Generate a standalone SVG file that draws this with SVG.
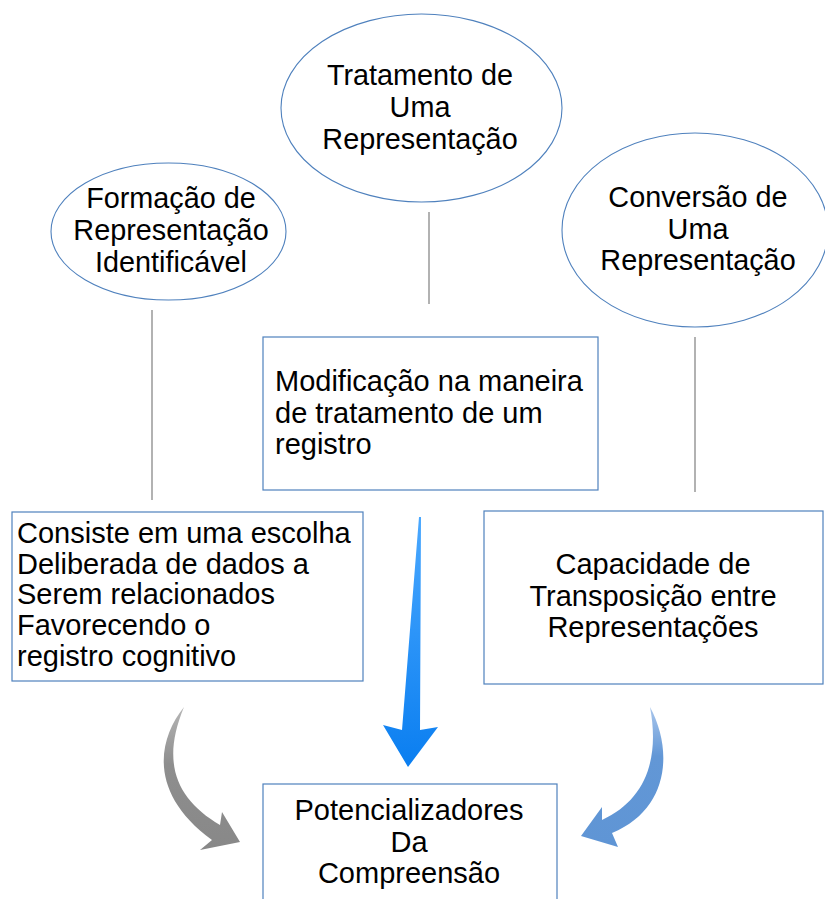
<svg xmlns="http://www.w3.org/2000/svg" width="825" height="899" viewBox="0 0 825 899">
<defs>
<style>
.el{fill:#fff;stroke:#4f81bd;stroke-width:1.1}
.bx{fill:#fff;stroke:#4f81bd;stroke-width:1.2}
.ln{stroke:#7f7f7f;stroke-width:1.2;fill:none}
.t{font-family:"Liberation Sans",Arial,sans-serif;fill:#000}
.e{font-size:28.8px;text-anchor:middle}
.b{font-size:29px}
.c{text-anchor:middle}
</style>
<linearGradient id="gBlue" x1="0" y1="0" x2="0" y2="1">
<stop offset="0" stop-color="#4aa8ff"/>
<stop offset="1" stop-color="#0a7ef0"/>
</linearGradient>
<linearGradient id="gGray" x1="0" y1="0" x2="0" y2="1">
<stop offset="0" stop-color="#b5b5b5"/>
<stop offset="0.4" stop-color="#8e8e8e"/>
<stop offset="1" stop-color="#888"/>
</linearGradient>
<linearGradient id="gLBlue" x1="0" y1="0" x2="0" y2="1">
<stop offset="0" stop-color="#a9c6ec"/>
<stop offset="0.35" stop-color="#6297d6"/>
<stop offset="1" stop-color="#5f95d5"/>
</linearGradient>
</defs>
<rect width="825" height="899" fill="#fff"/>

<g id="connectors">
<line class="ln" x1="152" y1="310" x2="152" y2="500"/>
<line class="ln" x1="429" y1="212" x2="429" y2="304"/>
<line class="ln" x1="695" y1="337" x2="695" y2="492"/>
<path id="arrow-left" fill="url(#gGray)" d="M184,707 C156,742 150,795 212,840 L200,850 L240,842 L222,812 L220,825 C178,800 160,765 184,707 Z"/>
<path id="arrow-center" fill="url(#gBlue)" d="M419,517 L421,517 L420,730 L438,727 L408,767 L383,725 L402,730 Z"/>
<path id="arrow-right" fill="url(#gLBlue)" d="M650,707 C674,752 668,810 612,833 L618,847 L581,836 L602,807 L602,820 C645,800 660,760 650,707 Z"/>
</g>

<g id="node-formacao">
<ellipse class="el" cx="168.5" cy="231.5" rx="117.5" ry="68.5"/>
<text class="t e"><tspan x="171" y="208">Formação de</tspan><tspan x="171" y="240">Representação</tspan><tspan x="171" y="272">Identificável</tspan></text>
</g>

<g id="node-tratamento">
<ellipse class="el" cx="421.5" cy="108" rx="140.5" ry="94"/>
<text class="t e"><tspan x="420" y="85">Tratamento de</tspan><tspan x="420" y="117">Uma</tspan><tspan x="420" y="149">Representação</tspan></text>
</g>

<g id="node-conversao">
<ellipse class="el" cx="695" cy="230" rx="133" ry="97"/>
<text class="t e"><tspan x="698" y="207">Conversão de</tspan><tspan x="698" y="238.5">Uma</tspan><tspan x="698" y="270">Representação</tspan></text>
</g>

<g id="node-modificacao">
<rect class="bx" x="263" y="337" width="335" height="153"/>
<text class="t b"><tspan x="275" y="391">Modificação na maneira</tspan><tspan x="275" y="422.5">de tratamento de um</tspan><tspan x="275" y="454">registro</tspan></text>
</g>

<g id="node-consiste">
<rect class="bx" x="12" y="512" width="351" height="169"/>
<text class="t b"><tspan x="17" y="543">Consiste em uma escolha</tspan><tspan x="17" y="573.5">Deliberada de dados a</tspan><tspan x="17" y="604">Serem relacionados</tspan><tspan x="17" y="635">Favorecendo o</tspan><tspan x="17" y="666">registro cognitivo</tspan></text>
</g>

<g id="node-capacidade">
<rect class="bx" x="484" y="511" width="339" height="173"/>
<text class="t b c"><tspan x="653" y="574">Capacidade de</tspan><tspan x="653" y="605.5">Transposição entre</tspan><tspan x="653" y="637">Representações</tspan></text>
</g>

<g id="node-potencializadores">
<rect class="bx" x="263" y="784" width="294" height="130"/>
<text class="t b c"><tspan x="409" y="820">Potencializadores</tspan><tspan x="409" y="851.5">Da</tspan><tspan x="409" y="883">Compreensão</tspan></text>
</g>
</svg>
